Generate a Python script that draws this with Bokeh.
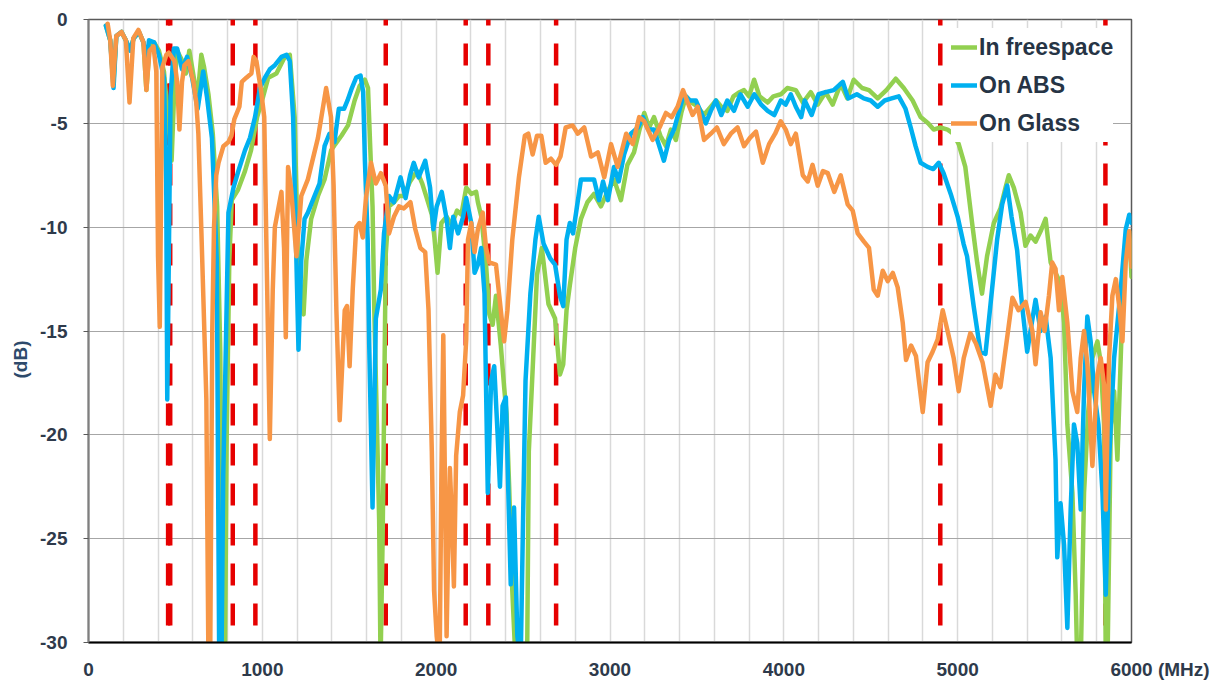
from bokeh.plotting import figure
from bokeh.models import Span, FixedTicker, Range1d
from bokeh.embed import file_html
from bokeh.resources import INLINE

# ---------------- data ----------------
freespace_mhz = [100, 125, 144, 160, 190, 215, 240, 260, 290, 316, 333, 351, 377, 405, 434, 455, 478, 495,
                 510, 540, 560, 580, 610, 630, 649, 665, 690, 715, 740, 758, 772, 785, 795, 810, 824, 860,
                 900, 935, 970, 1005, 1034, 1081, 1129, 1158, 1186, 1205, 1237, 1253, 1281, 1320, 1358,
                 1396, 1420, 1455, 1493, 1531, 1560, 1590, 1608, 1620, 1634, 1644, 1672, 1680, 1692, 1700,
                 1710, 1729, 1757, 1786, 1814, 1850, 1890, 1920, 1946, 1975, 1990, 2008, 2030, 2060, 2090,
                 2120, 2145, 2173, 2202, 2230, 2240, 2260, 2287, 2306, 2325, 2344, 2372, 2391, 2405, 2420,
                 2438, 2457, 2490, 2523, 2533, 2552, 2580, 2608, 2646, 2684, 2712, 2731, 2750, 2769, 2800,
                 2833, 2870, 2908, 2948, 2985, 3023, 3063, 3100, 3138, 3170, 3197, 3225, 3253, 3290, 3322,
                 3350, 3379, 3410, 3437, 3470, 3505, 3540, 3580, 3610, 3640, 3675, 3710, 3745, 3771, 3800,
                 3829, 3860, 3907, 3940, 3983, 4020, 4069, 4110, 4155, 4195, 4240, 4281, 4327, 4365, 4402,
                 4450, 4490, 4540, 4590, 4644, 4690, 4741, 4787, 4830, 4862, 4900, 4942, 4975, 5006, 5044,
                 5083, 5112, 5140, 5169, 5208, 5246, 5275, 5294, 5323, 5362, 5390, 5419, 5448, 5477, 5506,
                 5535, 5563, 5592, 5612, 5631, 5660, 5679, 5688, 5708, 5727, 5750, 5775, 5804, 5823, 5842,
                 5852, 5862, 5881, 5900, 5919, 5938, 5958, 5987, 6000]
freespace_db = [-0.3, -1.0, -3.0, -0.8, -0.6, -1.0, -1.5, -0.9, -0.6, -1.1, -3.4, -1.3, -1.1, -1.5, -2.5, -4.5, -6.8, -3.0,
                -1.5, -2.0, -2.6, -1.5, -3.0, -3.5, -1.7, -2.3, -3.6, -5.5, -9.0, -16.0, -31.0, -31.0, -20.0, -11.6, -8.7, -8.2,
                -7.3, -6.3, -4.7, -3.7, -2.8, -2.6, -1.8, -1.7, -4.7, -11.6, -14.2, -11.6, -9.6, -8.5, -7.7,
                -6.3, -6.0, -5.6, -5.1, -3.9, -3.2, -2.9, -3.3, -6.0, -9.0, -14.0, -24.1, -31.0, -25.0, -19.1,
                -11.3, -9.0, -8.8, -8.5, -8.5, -7.8, -7.3, -7.9, -8.6, -9.4, -10.5, -12.2, -9.8, -9.5, -9.9,
                -9.2, -9.4, -8.1, -8.4, -8.3, -8.8, -9.5, -11.8, -14.2, -14.7, -13.3, -15.7, -17.7, -19.0, -22.5,
                -27.5, -31.0, -31.0, -31.0, -20.8, -17.4, -12.3, -11.0, -13.7, -14.4, -17.1, -16.6, -14.0, -12.8, -11.0,
                -9.6, -8.8, -8.4, -9.0, -8.3, -7.7, -8.7, -7.0, -6.4, -5.3, -4.5, -5.2, -4.7, -5.6, -6.1,
                -5.3, -5.8, -4.5, -3.7, -4.0, -4.2, -4.6, -4.2, -3.9, -4.2, -4.4, -3.7, -3.5, -3.4, -3.7,
                -2.9, -3.7, -4.0, -3.7, -3.6, -3.3, -3.4, -4.0, -3.5, -4.1, -3.5, -4.1, -3.1, -3.8, -2.9,
                -3.3, -3.4, -3.8, -3.4, -2.85, -3.3, -3.9, -4.7, -5.0, -5.3, -5.2, -5.3, -5.5, -6.0, -7.1,
                -9.8, -11.7, -13.2, -11.4, -9.8, -9.1, -8.1, -7.5, -8.1, -9.3, -10.9, -10.4, -10.7, -10.2, -9.6,
                -11.7, -12.2, -12.7, -14.6, -19.5, -22.8, -27.7, -31.0, -31.0, -22.8, -19.0, -16.3, -15.5, -16.5, -19.5,
                -31.0, -31.0, -19.5, -17.9, -21.2, -16.3, -11.4, -10.2, -12.4]

abs_mhz = [100, 125, 144, 160, 190, 215, 240, 260, 290, 316, 335, 348, 377, 405, 434, 447, 453, 462, 472, 491,
           510, 538, 567, 596, 628, 660, 681, 710, 738, 752, 765, 775, 786, 805, 834, 862, 900, 929, 958, 986,
           1015, 1043, 1072, 1110, 1139, 1158, 1177, 1196, 1208, 1224, 1243, 1262, 1300, 1329, 1358, 1386,
           1415, 1440, 1470, 1490, 1515, 1540, 1565, 1580, 1590, 1606, 1615, 1634, 1653, 1682, 1700, 1729,
           1757, 1795, 1824, 1850, 1871, 1899, 1937, 1965, 1984, 2003, 2032, 2060, 2079, 2098, 2126, 2155,
           2173, 2202, 2221, 2240, 2259, 2278, 2297, 2316, 2334, 2353, 2367, 2382, 2401, 2429, 2448, 2467,
           2486, 2500, 2514, 2542, 2571, 2590, 2618, 2656, 2684, 2712, 2731, 2750, 2769, 2787, 2805, 2833,
           2870, 2908, 2937, 2960, 2988, 3023, 3050, 3081, 3120, 3161, 3190, 3220, 3253, 3280, 3310, 3340,
           3368, 3398, 3425, 3460, 3494, 3520, 3551, 3580, 3609, 3640, 3675, 3713, 3750, 3792, 3830, 3870,
           3907, 3945, 3983, 4010, 4040, 4069, 4100, 4120, 4160, 4200, 4240, 4287, 4339, 4370, 4420, 4460,
           4500, 4540, 4580, 4620, 4661, 4700, 4730, 4758, 4787, 4827, 4860, 4891, 4919, 4960, 5000, 5034,
           5054, 5092, 5131, 5160, 5188, 5227, 5256, 5285, 5310, 5342, 5371, 5400, 5419, 5448, 5477, 5506,
           5535, 5563, 5573, 5592, 5612, 5631, 5650, 5669, 5688, 5708, 5727, 5746, 5765, 5785, 5810, 5833,
           5852, 5871, 5900, 5938, 5967, 5987, 6000]
abs_db = [-0.3, -1.0, -3.3, -0.8, -0.6, -1.0, -1.5, -0.9, -0.6, -1.1, -2.0, -1.0, -1.1, -1.7, -2.8, -7.7, -18.3, -11.6, -3.7, -1.4,
          -1.4, -2.4, -1.8, -2.8, -4.3, -2.5, -3.7, -5.7, -11.6, -31.0, -31.0, -22.0, -17.5, -9.3, -8.1, -7.3, -6.3, -5.7, -4.7, -3.3,
          -2.8, -2.4, -2.2, -1.8, -1.7, -2.0, -4.7, -11.6, -15.9, -11.6, -9.6, -9.3, -8.5, -7.9, -6.1, -5.5,
          -5.9, -4.3, -4.3, -3.9, -3.3, -2.8, -2.7, -3.5, -6.8, -10.6, -15.7, -23.5, -14.4, -13.0, -10.3, -8.5,
          -8.8, -7.6, -8.6, -7.5, -6.9, -7.6, -6.8, -8.1, -10.1, -9.0, -8.3, -9.6, -11.0, -9.5, -10.3, -9.5,
          -8.6, -9.8, -12.2, -11.8, -11.0, -13.2, -22.8, -17.4, -16.7, -19.9, -22.5, -18.6, -18.2, -27.2, -23.5, -29.7,
          -31.0, -24.0, -17.4, -13.2, -10.6, -9.5, -10.8, -11.5, -11.8, -13.3, -13.8, -10.6, -9.8, -10.3, -9.3, -7.7,
          -7.7, -7.7, -8.7, -7.8, -8.7, -7.1, -7.8, -6.5, -5.5, -5.2, -4.7, -5.3, -5.3, -6.0, -6.8, -5.8,
          -5.3, -4.4, -3.6, -3.9, -3.9, -4.4, -5.0, -4.4, -3.9, -4.6, -3.9, -4.4, -3.6, -4.2, -3.6, -4.1,
          -4.4, -4.6, -3.9, -4.1, -3.6, -4.2, -4.7, -3.9, -4.6, -3.6, -3.5, -3.4, -3.0, -3.8, -3.6, -3.8,
          -3.9, -4.2, -3.9, -3.8, -3.7, -4.3, -5.2, -6.1, -6.9, -7.1, -7.2, -6.9, -7.4, -8.4, -9.5, -10.8,
          -11.4, -13.8, -16.0, -16.1, -13.8, -10.6, -8.9, -8.0, -9.5, -11.1, -13.8, -16.0, -15.0, -13.5, -15.0, -14.3,
          -16.3, -21.2, -25.9, -23.3, -25.3, -29.3, -23.6, -19.5, -20.4, -23.6, -17.9, -14.3, -15.5, -17.9, -19.5, -22.8,
          -27.7, -21.2, -16.3, -13.0, -10.1, -9.4, -9.8]

glass_mhz = [110, 125, 140, 160, 190, 215, 236, 258, 287, 316, 333, 351, 374, 390, 400, 410, 418, 425, 448, 462,
             494, 510, 523, 538, 552, 575, 603, 620, 632, 649, 670, 678, 690, 700, 712, 722, 735, 748, 776, 805,
             822, 839, 868, 882, 908, 937, 950, 966, 994, 1011, 1025, 1043, 1060, 1072, 1110, 1125, 1135, 1148,
             1165, 1196, 1224, 1262, 1320, 1367, 1395, 1410, 1426, 1445, 1474, 1487, 1502, 1520, 1540, 1559,
             1578, 1596, 1625, 1653, 1682, 1710, 1729, 1757, 1786, 1814, 1852, 1880, 1909, 1937, 1956, 1975,
             1988, 2003, 2020, 2030, 2041, 2050, 2060, 2070, 2079, 2090, 2102, 2115, 2136, 2155, 2173, 2183,
             2202, 2221, 2240, 2268, 2287, 2306, 2344, 2363, 2391, 2410, 2438, 2476, 2510, 2530, 2555, 2580,
             2605, 2630, 2660, 2690, 2715, 2745, 2785, 2815, 2852, 2891, 2930, 2967, 3006, 3044, 3093, 3131,
             3168, 3197, 3245, 3285, 3322, 3355, 3389, 3420, 3447, 3475, 3505, 3541, 3580, 3615, 3655, 3695,
             3734, 3771, 3805, 3840, 3879, 3915, 3950, 3982, 4011, 4040, 4069, 4109, 4138, 4165, 4195, 4225,
             4253, 4290, 4327, 4367, 4396, 4425, 4461, 4490, 4517, 4540, 4569, 4598, 4627, 4655, 4684, 4703,
             4732, 4760, 4799, 4827, 4856, 4885, 4914, 4942, 4977, 5006, 5035, 5073, 5105, 5143, 5190, 5217,
             5246, 5285, 5315, 5350, 5391, 5430, 5448, 5477, 5500, 5525, 5544, 5563, 5583, 5602, 5631, 5660,
             5688, 5708, 5727, 5746, 5775, 5804, 5823, 5842, 5852, 5871, 5890, 5910, 5929, 5948, 5967, 5987, 6000]
glass_db = [-0.2, -1.0, -3.2, -0.8, -0.6, -1.0, -4.0, -0.9, -0.5, -1.1, -3.4, -1.5, -1.3, -2.5, -11.4, -14.8, -8.0, -2.3, -1.7, -1.6,
            -2.0, -3.0, -5.3, -3.0, -2.2, -2.0, -3.0, -4.0, -5.5, -10.1, -16.0, -18.3, -31.0, -31.0, -15.0, -10.0, -7.5, -6.9, -6.1, -5.9,
            -5.6, -4.8, -4.2, -3.0, -2.8, -2.6, -1.8, -2.0, -3.5, -4.7, -11.6, -20.2, -13.0, -10.0, -8.3, -11.0, -15.3, -7.1,
            -8.1, -11.4, -8.5, -7.7, -5.7, -3.3, -4.7, -8.0, -14.0, -19.3, -14.0, -13.8, -16.7, -13.0, -10.0, -9.8,
            -10.5, -8.6, -6.9, -7.9, -7.4, -8.0, -10.3, -9.5, -9.0, -9.1, -8.8, -10.1, -11.0, -11.2, -14.0, -20.8,
            -27.5, -29.7, -31.0, -22.0, -15.2, -22.0, -29.7, -25.0, -21.6, -24.0, -27.3, -21.0, -18.9, -18.1, -15.4, -10.6,
            -9.8, -11.2, -10.1, -9.3, -11.0, -11.7, -11.8, -13.3, -15.5, -14.0, -10.6, -7.6, -5.6, -5.5, -6.5, -5.6,
            -5.6, -6.9, -6.7, -7.0, -6.6, -5.2, -5.1, -5.5, -5.2, -6.6, -6.4, -7.6, -6.0, -7.1, -5.5, -6.0,
            -4.7, -4.9, -5.8, -5.2, -4.5, -4.7, -4.2, -3.4, -4.0, -4.6, -4.2, -5.8, -5.5, -5.2, -6.0, -5.5,
            -5.2, -6.1, -5.7, -5.4, -6.9, -6.0, -5.5, -4.9, -5.3, -6.0, -5.5, -7.5, -7.8, -7.0, -8.0, -7.3,
            -7.4, -8.3, -7.5, -8.9, -9.2, -10.3, -10.7, -11.0, -13.0, -13.3, -12.1, -12.6, -12.2, -12.9, -14.6, -16.4,
            -15.7, -16.2, -18.9, -16.5, -16.0, -15.4, -14.0, -15.0, -16.3, -17.9, -16.3, -15.1, -15.6, -16.5, -18.6, -17.1,
            -17.7, -15.3, -13.4, -14.0, -13.6, -15.0, -16.6, -14.1, -15.0, -13.3, -11.7, -12.0, -14.0, -12.4, -14.6, -17.9,
            -18.9, -16.3, -15.0, -16.6, -21.5, -17.1, -16.3, -17.6, -23.6, -16.3, -13.3, -12.5, -13.8, -15.5, -11.7, -10.2, -11.9]

band_edges_mhz = [458, 470, 830, 960, 1710, 2170, 2300, 2690, 4900, 5850]
x_tick_values = [0, 1000, 2000, 3000, 4000, 5000, 6000]
y_tick_values = [0, -5, -10, -15, -20, -25, -30]
x_grid_values = list(range(0, 6001, 200))
series_names = ["In freespace", "On ABS", "On Glass"]
x_unit = "(MHz)"
y_unit = "(dB)"

# ---------------- figure ----------------
p = figure(width=1216, height=682, output_backend="svg", toolbar_location=None,
           x_range=Range1d(0, 6000), y_range=Range1d(-30, 0),
           min_border_left=88, min_border_right=85, min_border_top=19, min_border_bottom=40,
           background_fill_color="white", border_fill_color="white")

p.outline_line_color = "#595959"
p.outline_line_width = 1.5

# grids
p.xgrid.ticker = FixedTicker(ticks=x_grid_values)
p.xgrid.grid_line_color = "#d9d9d9"
p.xgrid.grid_line_width = 1.5
p.ygrid.ticker = FixedTicker(ticks=y_tick_values)
p.ygrid.grid_line_color = "#a6a6a6"
p.ygrid.grid_line_width = 1

# axes
tick_color = "#2e3a4b"
p.xaxis.ticker = FixedTicker(ticks=x_tick_values)
p.yaxis.ticker = FixedTicker(ticks=y_tick_values)
for ax in (p.xaxis[0], p.yaxis[0]):
    ax.major_label_text_font = "Liberation Sans"
    ax.major_label_text_font_style = "bold"
    ax.major_label_text_font_size = "19px"
    ax.major_label_text_color = tick_color
    ax.minor_tick_line_color = None

# "6000" keeps its centre on the tick; the unit follows it on the same row
pad = "\u2003\u2003\u2003"
x_labels = {v: str(v) for v in x_tick_values}
x_labels[x_tick_values[-1]] = pad + str(x_tick_values[-1]) + " " + x_unit
p.xaxis.major_label_overrides = x_labels
p.yaxis.major_label_overrides = {v: str(v) for v in y_tick_values}

p.xaxis.axis_line_color = "black"
p.xaxis.axis_line_width = 2
p.xaxis.major_tick_out = 0
p.xaxis.major_tick_in = 0
p.xaxis.major_label_standoff = 16
p.yaxis.axis_line_color = "#7f7f7f"
p.yaxis.axis_line_width = 2
p.yaxis.major_tick_out = 5
p.yaxis.major_tick_in = 0
p.yaxis.major_tick_line_color = "#595959"
p.yaxis.major_label_standoff = 16

p.yaxis.axis_label = y_unit + "\u2003\u2003\u2003"
p.yaxis.axis_label_text_font = "Liberation Sans"
p.yaxis.axis_label_text_font_style = "bold"
p.yaxis.axis_label_text_font_size = "19px"
p.yaxis.axis_label_text_color = "#2e4a6b"
p.yaxis.axis_label_standoff = 6

# red dashed band edges, under the curves
for f in band_edges_mhz:
    p.add_layout(Span(location=f, dimension="height", line_color="#e60000", line_width=4.5,
                      line_dash="22 18", line_dash_offset=16, level="underlay"))

# curves
colors = ["#92d050", "#00b0f0", "#f79646"]
xs = [freespace_mhz, abs_mhz, glass_mhz]
ys = [freespace_db, abs_db, glass_db]
for x, y, c, name in zip(xs, ys, colors, series_names):
    p.line(x, y, line_color=c, line_width=4.5, line_join="round", line_cap="round", legend_label=name)

leg = p.legend[0]
leg.location = (863, 500)
leg.background_fill_color = "white"
leg.background_fill_alpha = 1.0
leg.border_line_color = None
leg.label_text_font = "Liberation Sans"
leg.label_text_font_style = "bold"
leg.label_text_font_size = "23px"
leg.label_text_color = "#263445"
leg.glyph_width = 26
leg.glyph_height = 20
leg.label_height = 38
leg.label_standoff = 2
leg.spacing = 0
leg.padding = 4
leg.margin = 0

open("out.html", "w").write(file_html(p, INLINE))
